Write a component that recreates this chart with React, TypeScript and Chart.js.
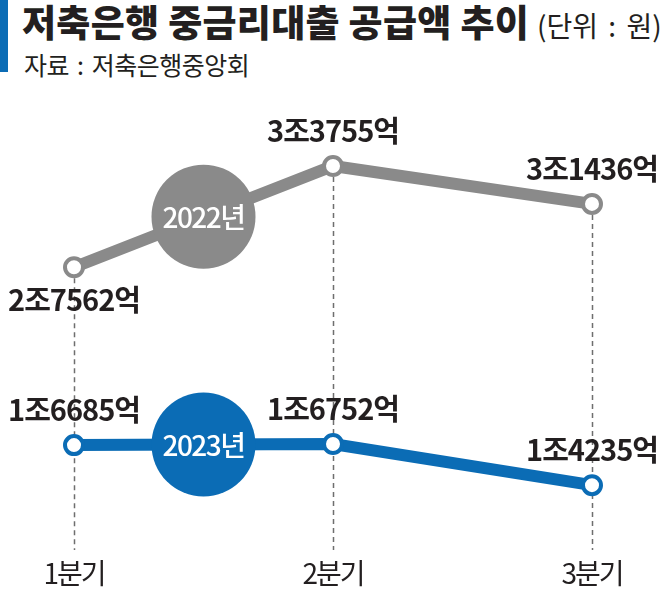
import React, { useEffect, useRef } from "react";
import { Chart, registerables } from "chart.js";

Chart.register(...registerables);

const CATEGORIES = ["1분기", "2분기", "3분기"];
const SERIES_NAMES = ["2022년", "2023년"];
const SERIES_2022 = [27562, 33755, 31436]; // 억원
const SERIES_2023 = [16685, 16752, 14235]; // 억원
const Y_MIN = 14000;
const Y_MAX = 34000;

const GRAY = "#8a8a8a";
const BLUE = "#0b6cb5";
const INK = "#231f20";
const FONT = '"Noto Sans CJK KR", "Noto Sans", sans-serif';

function fmt(v: number) {
  const jo = Math.floor(v / 10000);
  const rest = v % 10000;
  return `${jo}조${rest}억`;
}

const overlayPlugin = {
  id: "overlay",
  beforeDatasetsDraw(chart: any) {
    const ctx = chart.ctx;
    const meta0 = chart.getDatasetMeta(0);
    ctx.save();
    ctx.strokeStyle = "#6e6e6e";
    ctx.lineWidth = 1.5;
    ctx.setLineDash([5, 4]);
    meta0.data.forEach((pt: any) => {
      const x = Math.round(pt.x) + 0.5;
      ctx.beginPath();
      ctx.moveTo(x, pt.y + 11);
      ctx.lineTo(x, 550);
      ctx.stroke();
    });
    ctx.restore();
  },
  afterDatasetsDraw(chart: any) {
    const ctx = chart.ctx;
    ctx.save();
    chart.data.datasets.forEach((ds: any, di: number) => {
      const meta = chart.getDatasetMeta(di);
      const p0 = meta.data[0];
      const p1 = meta.data[1];
      const cx = (p0.x + p1.x) / 2;
      const cy = (p0.y + p1.y) / 2;
      ctx.beginPath();
      ctx.fillStyle = ds.borderColor;
      ctx.arc(cx, cy, 52, 0, Math.PI * 2);
      ctx.fill();
      ctx.fillStyle = "#ffffff";
      ctx.font = `500 28px ${FONT}`;
      (ctx as any).letterSpacing = "-1.5px";
      ctx.textAlign = "center";
      ctx.textBaseline = "middle";
      ctx.fillText(ds.label, cx, cy + 1);
    });
    // value labels
    ctx.font = `bold 29px ${FONT}`;
    (ctx as any).letterSpacing = "-1px";
    ctx.fillStyle = INK;
    ctx.textAlign = "center";
    ctx.textBaseline = "middle";
    chart.data.datasets.forEach((ds: any, di: number) => {
      const meta = chart.getDatasetMeta(di);
      meta.data.forEach((pt: any, i: number) => {
        const below = di === 0 && i === 0;
        const y = below ? pt.y + 33 : pt.y - 35;
        ctx.fillText(fmt(ds.data[i]), pt.x, y);
      });
    });
    // category labels
    ctx.font = `400 28px ${FONT}`;
    (ctx as any).letterSpacing = "-2px";
    const meta0 = chart.getDatasetMeta(0);
    meta0.data.forEach((pt: any, i: number) => {
      ctx.fillText(chart.data.labels[i], pt.x, 573);
    });
    ctx.restore();
  },
};

export default function App() {
  const ref = useRef<HTMLCanvasElement>(null);
  useEffect(() => {
    document.body.style.margin = "0";
    const chart = new Chart(ref.current!, {
      type: "line",
      data: {
        labels: CATEGORIES,
        datasets: [
          {
            label: SERIES_NAMES[0],
            data: SERIES_2022,
            borderColor: GRAY,
            backgroundColor: GRAY,
            borderWidth: 12,
            pointRadius: 9,
            pointBorderWidth: 4,
            pointBackgroundColor: "#ffffff",
            pointBorderColor: GRAY,
            clip: false as any,
            tension: 0,
          },
          {
            label: SERIES_NAMES[1],
            data: SERIES_2023,
            borderColor: BLUE,
            backgroundColor: BLUE,
            borderWidth: 12,
            pointRadius: 9,
            pointBorderWidth: 4,
            pointBackgroundColor: "#ffffff",
            pointBorderColor: BLUE,
            clip: false as any,
            tension: 0,
          },
        ],
      },
      options: {
        responsive: false,
        animation: false,
        layout: { padding: { left: 74, right: 69, top: 162, bottom: 102 } },
        scales: {
          x: { type: "category", display: false, offset: false },
          y: { display: false, min: Y_MIN, max: Y_MAX },
        },
        plugins: { legend: { display: false }, tooltip: { enabled: false } },
        events: [],
      },
      plugins: [overlayPlugin],
    });
    return () => chart.destroy();
  }, []);

  return (
    <div style={{ position: "relative", width: 661, height: 591, background: "#fff", overflow: "hidden" }}>
      <div style={{ position: "absolute", left: 0, top: 0, width: 8, height: 72, background: BLUE }} />
      <div
        style={{
          position: "absolute",
          left: 22,
          top: 3,
          whiteSpace: "nowrap",
          fontFamily: FONT,
          color: INK,
          lineHeight: "37px",
        }}
      >
        <span style={{ fontSize: 37, fontWeight: 900, letterSpacing: "0.3px" }}>저축은행 중금리대출 공급액 추이</span>
        <span style={{ fontSize: 28, fontWeight: 400, marginLeft: 8, wordSpacing: "4px" }}>(단위 : 원)</span>
      </div>
      <div
        style={{
          position: "absolute",
          left: 24,
          top: 52,
          whiteSpace: "nowrap",
          fontFamily: FONT,
          color: INK,
          fontSize: 25,
          lineHeight: "25px",
          letterSpacing: "-0.5px",
          wordSpacing: "3px",
        }}
      >
        자료 : 저축은행중앙회
      </div>
      <canvas ref={ref} width={661} height={591} style={{ position: "absolute", left: 0, top: 0 }} />
    </div>
  );
}
